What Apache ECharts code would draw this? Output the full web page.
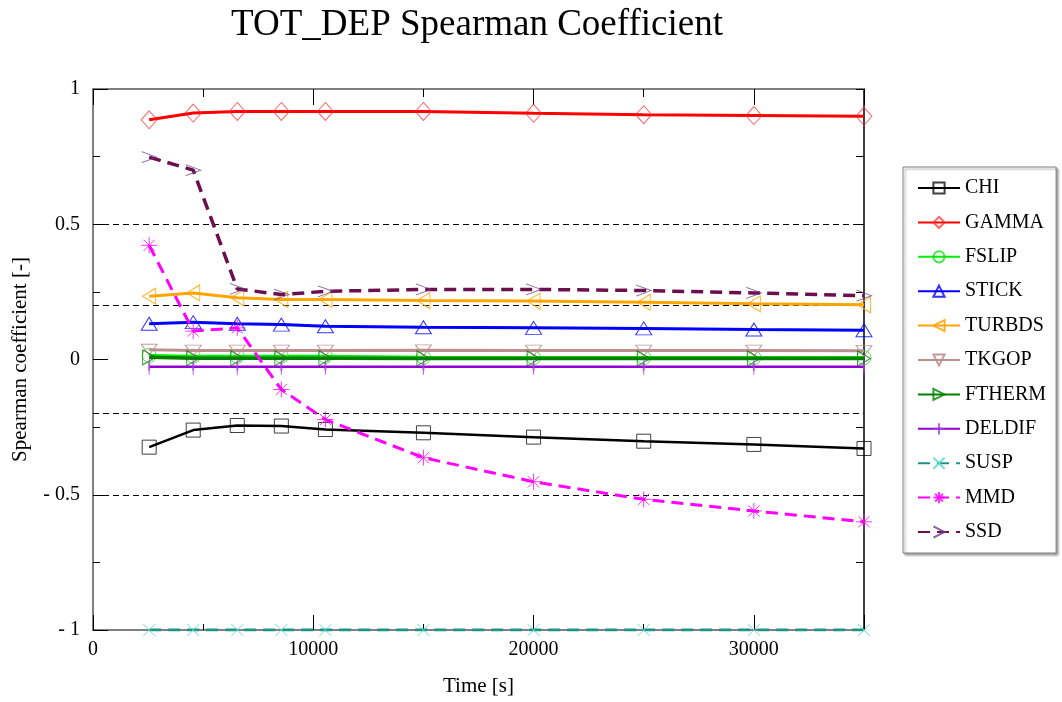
<!DOCTYPE html>
<html><head><meta charset="utf-8">
<script src="https://cdn.jsdelivr.net/npm/echarts@6/dist/echarts.min.js"></script>
<style>html,body{margin:0;padding:0;background:#fff}#c{width:1062px;height:702px}</style>
</head><body><div id="c"></div><script>
const titleText = 'TOT_DEP Spearman Coefficient';
const xName = 'Time [s]';
const yName = 'Spearman coefficient [-]';
const times = [2550, 4550, 6550, 8550, 10550, 15000, 20000, 25000, 30000, 35000];
const CHI    = [-0.324, -0.261, -0.244, -0.246, -0.259, -0.271, -0.287, -0.302, -0.314, -0.329];
const GAMMA  = [0.886, 0.911, 0.917, 0.917, 0.917, 0.917, 0.910, 0.905, 0.902, 0.899];
const FSLIP  = [0.015, 0.012, 0.012, 0.012, 0.012, 0.008, 0.007, 0.007, 0.007, 0.007];
const STICK  = [0.132, 0.138, 0.132, 0.129, 0.123, 0.119, 0.117, 0.115, 0.111, 0.108];
const TURBDS = [0.234, 0.246, 0.228, 0.222, 0.222, 0.218, 0.216, 0.212, 0.206, 0.202];
const TKGOP  = [0.036, 0.033, 0.033, 0.033, 0.033, 0.034, 0.033, 0.033, 0.033, 0.032];
const FTHERM = [0.008, 0.005, 0.005, 0.005, 0.005, 0.004, 0.004, 0.004, 0.004, 0.004];
const DELDIF = [-0.027, -0.027, -0.027, -0.027, -0.027, -0.027, -0.027, -0.027, -0.027, -0.027];
const SUSP   = [-1, -1, -1, -1, -1, -1, -1, -1, -1, -1];
const MMD    = [0.422, 0.105, 0.117, -0.111, -0.222, -0.363, -0.452, -0.517, -0.560, -0.600];
const SSD    = [0.748, 0.700, 0.261, 0.240, 0.252, 0.259, 0.259, 0.255, 0.246, 0.236];
const refLines = [0.5, 0.2, -0.2, -0.5];
const seriesNames = ['CHI','GAMMA','FSLIP','STICK','TURBDS','TKGOP','FTHERM','DELDIF','SUSP','MMD','SSD'];
const seriesValues = [CHI, GAMMA, FSLIP, STICK, TURBDS, TKGOP, FTHERM, DELDIF, SUSP, MMD, SSD];

const styles = {
  CHI:    {color:'#000000', mk:'rgba(0,0,0,0.75)', symbol:'rect', size:14, rot:0, w:2.5, dash:'solid'},
  GAMMA:  {color:'#ff0000', mk:'rgba(255,40,40,0.7)', symbol:'diamond', size:[16,18], rot:0, w:3, dash:'solid'},
  FSLIP:  {color:'#00ee00', mk:'rgba(0,220,0,0.7)', symbol:'circle', size:14, rot:0, w:3, dash:'solid'},
  STICK:  {color:'#0000ff', mk:'rgba(0,0,255,0.8)', symbol:'triangle', size:[16,13], rot:0, w:3, dash:'solid'},
  TURBDS: {color:'#ffa500', mk:'rgba(255,165,0,0.85)', symbol:'triangle', size:[16,13], rot:90, w:3, dash:'solid'},
  TKGOP:  {color:'#bc8f8f', mk:'rgba(188,143,143,0.9)', symbol:'triangle', size:[16,11], rot:180, w:3, dash:'solid'},
  FTHERM: {color:'#008000', mk:'rgba(0,128,0,0.8)', symbol:'triangle', size:[15,13], rot:-90, w:3.5, dash:'solid'},
  DELDIF: {color:'#9400d3', mk:'rgba(160,60,220,0.8)', symbol:'path://M5,0L5,10M0,5L10,5', size:[2,16], rot:0, w:2.5, dash:'solid'},
  SUSP:   {color:'#1f9384', mk:'rgba(80,220,205,0.85)', symbol:'path://M0,0L10,10M10,0L0,10', size:12, rot:0, w:3, dash:[12,7]},
  MMD:    {color:'#ff00ff', mk:'rgba(255,0,255,0.8)', symbol:'path://M5,0L5,10M0,5L10,5M1.5,1.5L8.5,8.5M8.5,1.5L1.5,8.5', size:16, rot:0, w:3, dash:[12,7]},
  SSD:    {color:'#6b0f4f', mk:'rgba(110,60,140,0.8)', symbol:'path://M0,0L10,5L0,10', size:[15,11], rot:0, w:3.5, dash:[12,7]}
};

const font = 'Liberation Serif';
const series = seriesNames.map((n, i) => {
  const s = styles[n];
  return {
    name: n, type: 'line', xAxisIndex: 0, yAxisIndex: 0,
    data: times.map((t, j) => [t, seriesValues[i][j]]),
    color: s.color,
    symbol: s.symbol, symbolSize: s.size, symbolRotate: s.rot,
    showAllSymbol: true,
    lineStyle: {color: s.color, width: s.w, type: s.dash},
    itemStyle: {color: 'rgba(0,0,0,0)', borderColor: s.mk, borderWidth: 1},
    emphasis: {disabled: true},
    animation: false,
    z: 3 + i
  };
});
series.unshift({
  name: 'ref', type: 'line', xAxisIndex: 0, yAxisIndex: 0, data: [], z: 1,
  markLine: {silent: true, symbol: 'none', animation: false, label: {show: false},
    lineStyle: {color: '#000', type: [6, 4], width: 1},
    emphasis: {disabled: true},
    data: refLines.map(v => ({yAxis: v}))}
});

const tickStyle = {color: '#000', width: 1};
function ax(base, extra, lineShow, lineColor, lineWidth, tickLen) {
  return Object.assign({}, base, {
    axisLine: {show: lineShow, onZero: false, lineStyle: {color: lineColor, width: lineWidth}},
    axisTick: {show: true, inside: true, length: tickLen, lineStyle: tickStyle},
    axisLabel: {show: false}
  }, extra);
}
const baseX = {type: 'value', min: 0, max: 35000, splitLine: {show: false}};
const baseY = {type: 'value', min: -1, max: 1, splitLine: {show: false}};
const chart = echarts.init(document.getElementById('c'), null, {renderer: 'canvas'});
chart.setOption({
  animation: false,
  backgroundColor: '#ffffff',
  title: {text: titleText, left: 472, textAlign: 'center', top: 2,
    textStyle: {fontFamily: font, fontSize: 37, fontWeight: 'normal', color: '#000'}},
  grid: {left: 93, right: 198, top: 89, bottom: 71, containLabel: false},
  legend: {
    data: seriesNames, orient: 'vertical', left: 903, top: 167,
    padding: [11, 10, 11, 14], itemGap: 14.4, itemWidth: 42, itemHeight: 14,
    borderColor: '#808080', borderWidth: 1, backgroundColor: '#fff',
    shadowColor: 'rgba(0,0,0,0.35)', shadowBlur: 2, shadowOffsetX: 2, shadowOffsetY: 2,
    textStyle: {fontFamily: font, fontSize: 20, color: '#000'},
    selectedMode: false
  },
  xAxis: [
    ax(baseX, {position: 'bottom', interval: 5000,
      name: xName, nameLocation: 'middle', nameGap: 46,
      nameTextStyle: {fontFamily: font, fontSize: 21, color: '#000'},
      axisLabel: {show: true, fontFamily: font, fontSize: 20, color: '#000', margin: 10,
        formatter: v => (v % 10000 === 0 && v < 35000) ? String(v) : ''}}, true, '#808080', 2, 6),
    ax(baseX, {position: 'bottom', interval: 10000}, false, '#808080', 2, 15),
    ax(baseX, {position: 'top', interval: 5000}, true, '#808080', 2, 8),
    ax(baseX, {position: 'top', interval: 10000}, false, '#808080', 2, 16)
  ],
  yAxis: [
    ax(baseY, {interval: 0.5, position: 'left',
      name: yName, nameLocation: 'middle', nameGap: 62, nameRotate: 90,
      nameTextStyle: {fontFamily: font, fontSize: 21, color: '#000'},
      axisLabel: {show: true, fontFamily: font, fontSize: 20, color: '#000', margin: 13,
        formatter: v => v < 0 ? '- ' + Math.abs(v) : String(v)}}, true, '#808080', 2, 15),
    ax(baseY, {interval: 0.25, position: 'left'}, false, '#808080', 2, 7),
    ax(baseY, {interval: 0.25, position: 'right'}, true, '#000', 1.5, 8)
  ],
  series: series
});
</script></body></html>
